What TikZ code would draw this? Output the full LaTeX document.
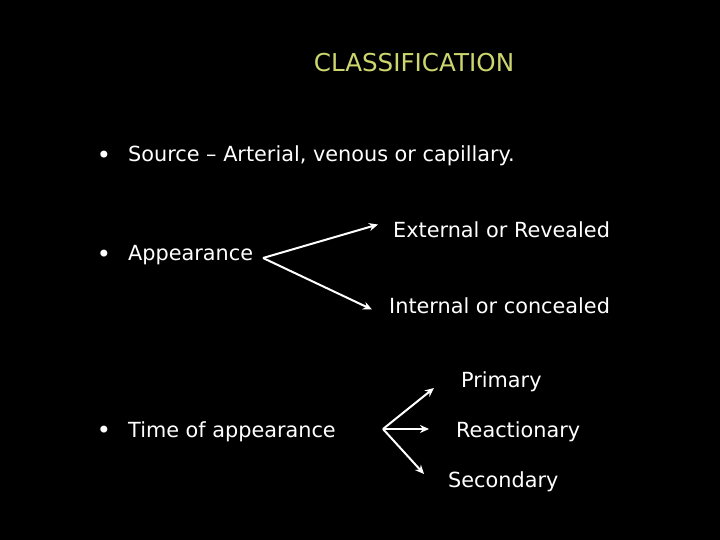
\documentclass[tikz,border=0pt]{standalone}
\usepackage{fontspec}
\setmainfont{DejaVu Sans}
\usetikzlibrary{arrows.meta}
\definecolor{titlecol}{RGB}{205,214,110}
\tikzset{
  txt/.style={anchor=west, inner sep=0pt, text=white, font=\fontsize{20.8}{24}\selectfont},
  bul/.style={anchor=center, inner sep=0pt, text=white, font=\fontsize{24}{26}\selectfont},
  arr/.style={draw=white, line width=2pt, -{Stealth[length=9pt,width=8pt]}}
}
\begin{document}
\begin{tikzpicture}[x=1pt,y=-1pt]
\fill[black] (0,0) rectangle (720,540);
\useasboundingbox (0,0) rectangle (720,540);
\node[inner sep=0pt, text=titlecol, font=\fontsize{24.6}{28}\selectfont] (title) at (414,63) {CLASSIFICATION};
\node[bul] (b1) at (104,157) {•};
\node[txt] (src) at (128,156) {Source – Arterial, venous or capillary.};
\node[bul] (b2) at (104,256) {•};
\node[txt] (app) at (128,255.5) {Appearance};
\node[txt] (ext) at (393,229.5) {External or Revealed};
\node[txt] (int) at (389,305.5) {Internal or concealed};
\node[bul] (b3) at (104,432) {•};
\node[txt] (time) at (128,431.5) {Time of appearance};
\node[txt] (prim) at (461,381.5) {Primary};
\node[txt] (reac) at (456,431.5) {Reactionary};
\node[txt] (sec) at (448,481.5) {Secondary};
\coordinate (s1) at (263,258);
\coordinate (s2) at (383,429);
\draw[arr] (s1) -- (378,224.5);
\draw[arr] (s1) -- (372,309.5);
\draw[arr] (s2) -- (434,388);
\draw[arr] (s2) -- (429,429);
\draw[arr] (s2) -- (424,474);
\end{tikzpicture}
\end{document}
